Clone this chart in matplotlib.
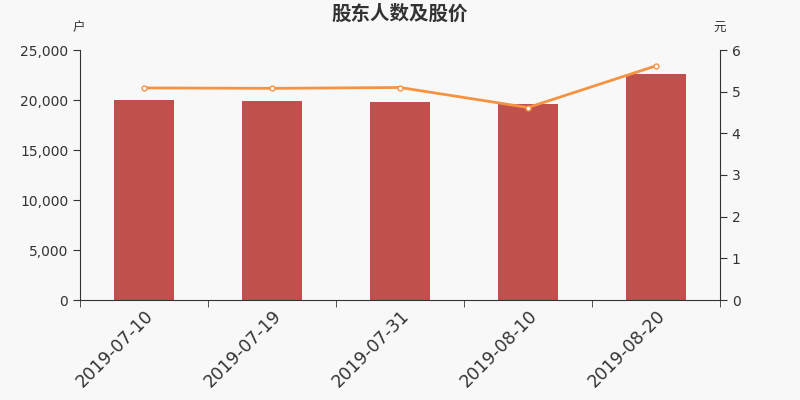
import matplotlib
matplotlib.use("Agg")
import matplotlib.pyplot as plt
from matplotlib.ticker import FuncFormatter, FixedLocator
import numpy as np

plt.rcParams['font.family'] = ['DejaVu Sans', 'Noto Sans CJK SC']

dates = ["2019-07-10", "2019-07-19", "2019-07-31", "2019-08-10", "2019-08-20"]
holders = [20050, 19900, 19760, 19630, 22580]
prices = [5.09, 5.08, 5.10, 4.62, 5.62]

bg = "#f8f8f8"
fig = plt.figure(figsize=(8, 4), dpi=100, facecolor=bg)
ax = fig.add_axes([0.1, 0.25, 0.8, 0.625], facecolor=bg)
x = np.arange(len(dates))
ax.bar(x, holders, width=0.47, color="#c0504d", zorder=2)
ax.set_xlim(-0.5, len(dates) - 0.5)
ax.set_ylim(0, 25000)
ax.set_yticks(range(0, 25001, 5000))
ax.yaxis.set_major_formatter(FuncFormatter(lambda v, p: f"{int(v):,}"))
ax.set_xticks(x)
ax.set_xticklabels(dates, rotation=45, ha="right", rotation_mode="anchor", fontsize=12.5, color="#333333")
ax.tick_params(axis="x", length=0, pad=5)
ax.xaxis.set_minor_locator(FixedLocator(np.arange(-0.5, len(dates), 1.0)))
ax.tick_params(axis="x", which="minor", length=5, color="#333333")
ax.tick_params(axis="y", length=5, color="#333333", labelsize=10, labelcolor="#333333")
for s in ["top", "right"]:
    ax.spines[s].set_visible(False)
ax.spines["left"].set_color("#333333")
ax.spines["bottom"].set_color("#333333")

ax2 = ax.twinx()
ax2.plot(x, prices, color="#f59342", lw=2, marker="o", ms=3.5, mfc="white", mec="#f59342", mew=1, zorder=3)
ax2.set_ylim(0, 6)
ax2.set_yticks(range(0, 7))
ax2.tick_params(axis="y", length=5, color="#333333", labelsize=10, labelcolor="#333333")
for s in ["top", "left", "bottom"]:
    ax2.spines[s].set_visible(False)
ax2.spines["right"].set_color("#333333")

fig.text(0.5, 0.964, "股东人数及股价", ha="center", va="center", fontsize=14, fontweight="bold",
         color="#333333", family=['Noto Sans CJK SC', 'DejaVu Sans'])
fig.text(0.098, 0.93, "户", ha="center", va="center", fontsize=9, color="#333333",
         family=['Noto Sans CJK SC', 'DejaVu Sans'])
fig.text(0.899, 0.93, "元", ha="center", va="center", fontsize=9, color="#333333",
         family=['Noto Sans CJK SC', 'DejaVu Sans'])

fig.savefig("out.png", dpi=100, facecolor=bg)
